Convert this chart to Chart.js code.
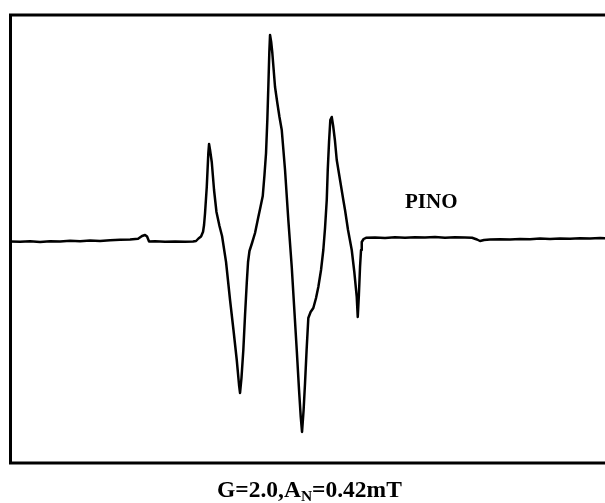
<!DOCTYPE html>
<html>
<head>
<meta charset="utf-8">
<script src="https://cdn.jsdelivr.net/npm/chart.js@4/dist/chart.umd.min.js"></script>
<style>
  html, body { margin: 0; padding: 0; background: #ffffff; }
  #wrap { position: relative; width: 605px; height: 503px; }
  canvas { display: block; }
</style>
</head>
<body>
<div id="wrap"><canvas id="c" width="605" height="503"></canvas></div>
<script>
// Magnetic field offset (G) and EPR signal intensity (a.u.)
const fieldG = [
  -19.29, -18.62, -17.92, -17.22, -16.52, -15.82, -15.12, -14.42, -13.72, -13.02,
  -12.32, -11.62, -10.92, -10.36, -10.08, -9.87, -9.73, -9.59, -9.17, -8.47,
  -7.77, -7.07, -6.51, -6.30, -6.13, -5.95, -5.81, -5.74, -5.67, -5.55,
  -5.44, -5.39, -5.32, -5.20, -5.04, -4.87, -4.66, -4.48, -4.20, -3.92,
  -3.68, -3.45, -3.29, -3.22, -3.12, -2.99, -2.87, -2.75, -2.66, -2.56,
  -2.38, -2.17, -1.94, -1.79, -1.63, -1.51, -1.40, -1.31, -1.24, -1.17,
  -1.12, -1.04, -0.96, -0.77, -0.61, -0.46, -0.30, -0.07, 0.16, 0.40,
  0.56, 0.75, 0.91, 1.03, 1.12, 1.23, 1.33, 1.44, 1.56, 1.72,
  1.91, 2.10, 2.26, 2.45, 2.61, 2.73, 2.85, 2.92, 3.01, 3.10,
  3.20, 3.30, 3.42, 3.55, 3.78, 4.01, 4.13, 4.34, 4.60, 4.78,
  4.95, 5.02, 5.10, 5.18, 5.25, 5.30, 5.43, 5.60, 6.23, 6.93,
  7.63, 8.33, 9.03, 9.73, 10.43, 11.13, 11.83, 12.53, 13.02, 13.37,
  13.58, 13.86, 14.28, 14.98, 15.68, 16.38, 17.08, 17.78, 18.48, 19.18,
  19.88, 20.58, 21.28, 21.98, 22.33
];
const intensity = [
  -0.5, -0.8, -0.3, -0.9, -0.2, -0.5, 0.2, -0.2, 0.4, 0.1,
  0.8, 1.2, 1.6, 2.2, 5, 6, 4.5, -0.5, -0.2, -0.8,
  -0.4, -0.8, -0.5, 0, 2.5, 4.5, 9.3, 16, 28, 54,
  88, 97, 91, 79, 51, 29, 15, 5, -21, -59,
  -89, -119, -144, -152, -137, -109, -74, -42, -21, -10,
  -2, 8, 24, 34, 45, 66, 88, 121, 154, 189,
  206, 199, 188, 154, 138, 124, 111, 71, 21, -26,
  -64, -109, -149, -176, -191, -169, -142, -109, -77, -71,
  -67, -57, -46, -29, -9, 13, 41, 71, 99, 121,
  124, 115, 101, 81, 61, 41, 31, 11, -9, -31,
  -56, -76, -54, -26, -9, -1, 2, 3.2, 3.5, 3.1,
  3.7, 3.2, 3.8, 3.4, 4.0, 3.3, 3.8, 3.4, 3.2, 1.5,
  0, 1, 1.4, 1.8, 1.5, 2.1, 1.8, 2.4, 2.1, 2.6,
  2.3, 2.8, 2.5, 2.9, 2.7
];
const sampleLabel = "PINO";
const captionMain = "G=2.0,A";
const captionSub = "N";
const captionTail = "=0.42mT";

const points = fieldG.map((x, i) => ({ x: x, y: intensity[i] }));

const framePlugin = {
  id: 'frame',
  afterDraw(chart) {
    const { ctx, chartArea } = chart;
    const l = chartArea.left, t = chartArea.top, b = chartArea.bottom, r = chart.width;
    ctx.save();
    ctx.strokeStyle = '#000';
    ctx.lineWidth = 3;
    ctx.lineCap = 'butt';
    ctx.beginPath();
    ctx.moveTo(r, t); ctx.lineTo(l - 1.5, t);
    ctx.moveTo(l, t - 1.5); ctx.lineTo(l, b + 1.5);
    ctx.moveTo(l - 1.5, b); ctx.lineTo(r, b);
    ctx.stroke();

    ctx.fillStyle = '#000';
    ctx.textBaseline = 'alphabetic';
    ctx.textAlign = 'left';
    ctx.font = 'bold 21px "Liberation Serif", "Times New Roman", serif';
    ctx.fillText(sampleLabel, 405, 207.5);

    const big = 'bold 23.5px "Liberation Serif", "Times New Roman", serif';
    const small = 'bold 15.5px "Liberation Serif", "Times New Roman", serif';
    let x = 217, base = 497;
    ctx.font = big;
    ctx.fillText(captionMain, x, base);
    x += ctx.measureText(captionMain).width;
    ctx.font = small;
    ctx.fillText(captionSub, x, base + 4);
    x += ctx.measureText(captionSub).width;
    ctx.font = big;
    ctx.fillText(captionTail, x, base);
    ctx.restore();
  }
};

new Chart(document.getElementById('c'), {
  type: 'line',
  data: {
    datasets: [{
      data: points,
      borderColor: '#000',
      borderWidth: 2.5,
      borderJoinStyle: 'round',
      borderCapStyle: 'round',
      pointRadius: 0,
      tension: 0,
      fill: false
    }]
  },
  options: {
    responsive: false,
    animation: false,
    events: [],
    layout: { padding: { left: 10.5, top: 15, right: 0, bottom: 40 } },
    plugins: { legend: { display: false }, tooltip: { enabled: false }, title: { display: false } },
    scales: {
      x: { type: 'linear', min: -19.29, max: 22.33, display: false },
      y: { type: 'linear', min: -222, max: 226, display: false }
    }
  },
  plugins: [framePlugin]
});
</script>
</body>
</html>
